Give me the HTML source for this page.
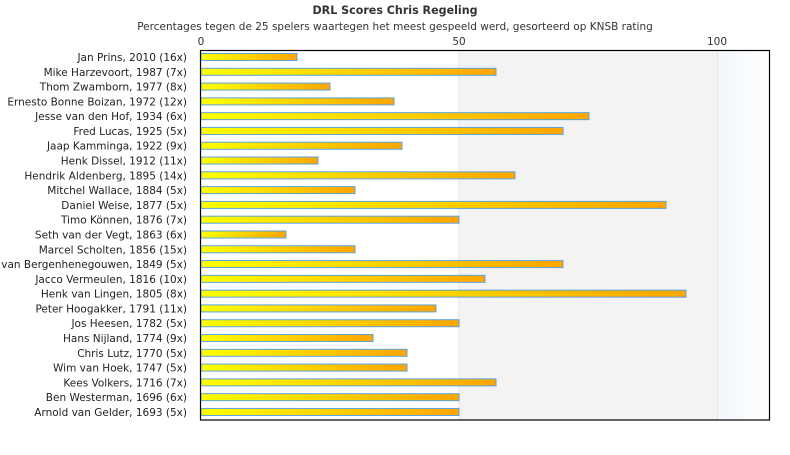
<!DOCTYPE html>
<html><head><meta charset="utf-8"><style>
body{margin:0;background:#fff;}
svg text{font-family:"DejaVu Sans","Liberation Sans",sans-serif;}
</style></head><body>
<svg width="790" height="450" xmlns="http://www.w3.org/2000/svg">
<defs>
<linearGradient id="g" x1="0" x2="1" y1="0" y2="0"><stop offset="0" stop-color="#ffff00"/><stop offset="1" stop-color="#ffa500"/></linearGradient>
<linearGradient id="b" x1="0" x2="1"><stop offset="0" stop-color="#f2f7fc"/><stop offset="1" stop-color="#ffffff"/></linearGradient>
</defs>
<text x="395" y="14" font-size="11.1" font-weight="bold" text-anchor="middle" fill="#333">DRL Scores Chris Regeling</text>
<text x="395" y="30" font-size="10.5" text-anchor="middle" fill="#333">Percentages tegen de 25 spelers waartegen het meest gespeeld werd, gesorteerd op KNSB rating</text>
<rect x="459" y="50.5" width="258" height="369.5" fill="#f3f3f3"/>
<rect x="718" y="50.5" width="52" height="369.5" fill="url(#b)"/>
<line x1="459" y1="50" x2="459" y2="420" stroke="#e4e4e4"/>
<line x1="717.5" y1="50" x2="717.5" y2="420" stroke="#e4e4e4"/>
<text x="201" y="45" font-size="10.5" text-anchor="middle" fill="#333">0</text>
<text x="459" y="45" font-size="10.5" text-anchor="middle" fill="#333">50</text>
<text x="717" y="45" font-size="10.5" text-anchor="middle" fill="#333">100</text>
<g id="bars" font-size="10.5" fill="#222" text-anchor="end"></g>
<rect x="200.5" y="50.5" width="569" height="369.5" fill="none" stroke="#000" stroke-width="1.2"/>
</svg>
<script>
var names=["Jan Prins, 2010 (16x)","Mike Harzevoort, 1987 (7x)","Thom Zwamborn, 1977 (8x)","Ernesto Bonne Boizan, 1972 (12x)","Jesse van den Hof, 1934 (6x)","Fred Lucas, 1925 (5x)","Jaap Kamminga, 1922 (9x)","Henk Dissel, 1912 (11x)","Hendrik Aldenberg, 1895 (14x)","Mitchel Wallace, 1884 (5x)","Daniel Weise, 1877 (5x)","Timo Können, 1876 (7x)","Seth van der Vegt, 1863 (6x)","Marcel Scholten, 1856 (15x)","Ruben van Bergenhenegouwen, 1849 (5x)","Jacco Vermeulen, 1816 (10x)","Henk van Lingen, 1805 (8x)","Peter Hoogakker, 1791 (11x)","Jos Heesen, 1782 (5x)","Hans Nijland, 1774 (9x)","Chris Lutz, 1770 (5x)","Wim van Hoek, 1747 (5x)","Kees Volkers, 1716 (7x)","Ben Westerman, 1696 (6x)","Arnold van Gelder, 1693 (5x)"];
var ends=[297,496,330,394,589,563,402,318,515,355,666,459,286,355,563,485,686,436,459,373,407,407,496,459,459];
var g=document.getElementById("bars"),h="";
for(var i=0;i<25;i++){var c=57+i*14.79;
h+='<rect x="201" y="'+(c-3.5)+'" width="'+(ends[i]-201)+'" height="7" fill="url(#g)" stroke="#5ba3dd" stroke-width="1"/>';
h+='<text x="187" y="'+(c+4)+'">'+names[i]+'</text>';}
g.innerHTML=h;
</script>
</body></html>
